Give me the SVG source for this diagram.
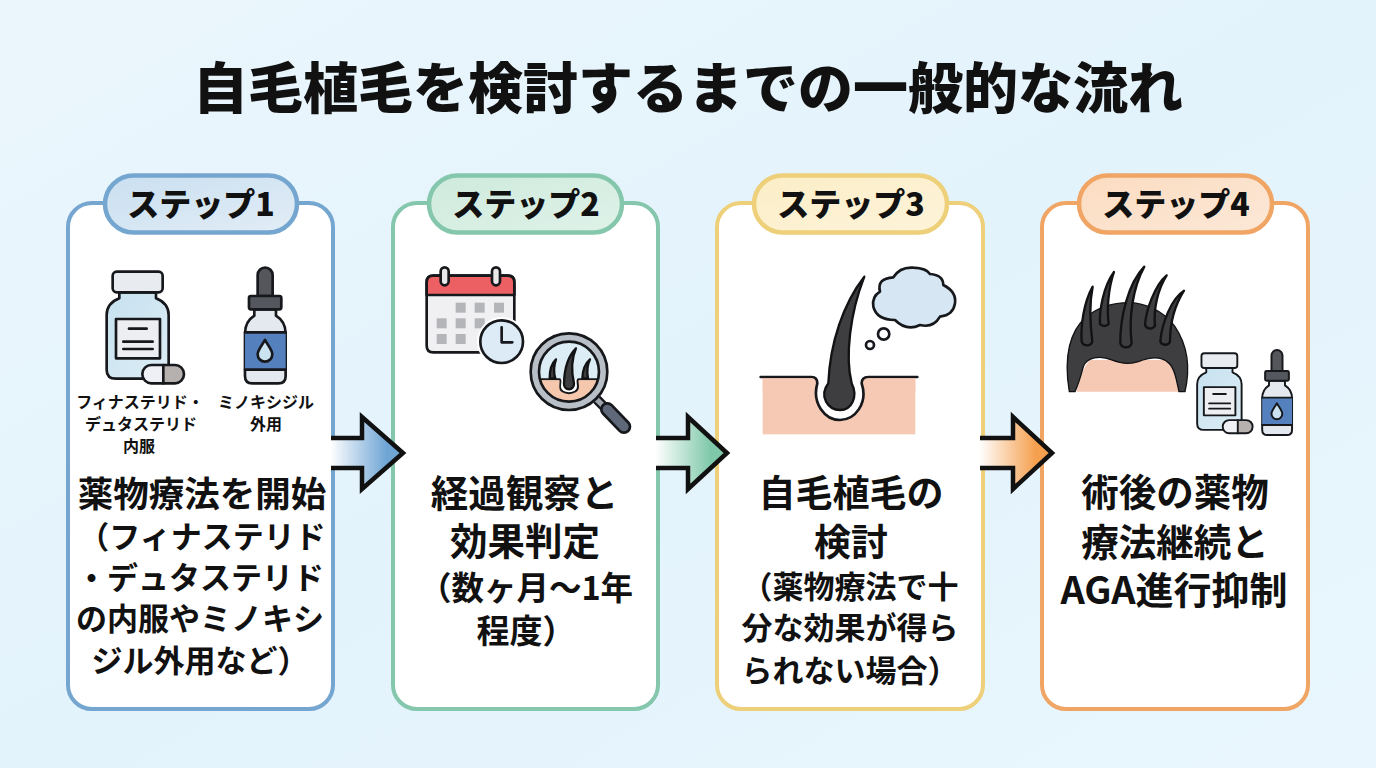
<svg xmlns="http://www.w3.org/2000/svg" width="1376" height="768" viewBox="0 0 1376 768">
<defs>
<style>
text{font-family:"Noto Sans CJK JP","Noto Sans",sans-serif;font-weight:700;fill:#111;text-anchor:middle}
.title{font-size:55px;font-weight:900}
.pilltxt{font-size:32px;font-weight:900}
.big{font-size:37px}
.mid{font-size:31px}
.small{font-size:16px}
.card{fill:#fff;stroke-width:4}
.pill{stroke-width:4.5}
.ink{stroke:#16181c;stroke-width:8;stroke-linejoin:round;stroke-linecap:round}
.line{fill:none;stroke:#16181c;stroke-width:8;stroke-linecap:round;stroke-linejoin:round}
.sq{fill:#b4b5b9}
.hair{fill:#3e3e41;stroke:#121214;stroke-width:7;stroke-linejoin:round}
.arrow{stroke-width:4.5;stroke:#111;fill:none;stroke-linejoin:miter}
</style>
<linearGradient id="bg" x1="0" y1="0" x2="1" y2="1"><stop offset="0" stop-color="#ebf6fc"/><stop offset=".5" stop-color="#e3f3fc"/><stop offset="1" stop-color="#e9f6fd"/></linearGradient>
<linearGradient id="p1" x1="0" y1="0" x2="1" y2="1"><stop offset="0" stop-color="#c9dff0"/><stop offset="1" stop-color="#e2edf6"/></linearGradient>
<linearGradient id="p2" x1="0" y1="0" x2="1" y2="1"><stop offset="0" stop-color="#cfeadd"/><stop offset="1" stop-color="#dff2e9"/></linearGradient>
<linearGradient id="p3" x1="0" y1="0" x2="1" y2="1"><stop offset="0" stop-color="#fbeec7"/><stop offset="1" stop-color="#fdf3d9"/></linearGradient>
<linearGradient id="p4" x1="0" y1="0" x2="1" y2="1"><stop offset="0" stop-color="#fbdcc0"/><stop offset="1" stop-color="#fce8d8"/></linearGradient>
<linearGradient id="a1"><stop offset="0" stop-color="#fff" stop-opacity="0"/><stop offset=".1" stop-color="#fff"/><stop offset=".8" stop-color="#6fa5d5"/></linearGradient>
<linearGradient id="a2"><stop offset="0" stop-color="#fff" stop-opacity="0"/><stop offset=".1" stop-color="#fff"/><stop offset=".8" stop-color="#7fc8aa"/></linearGradient>
<linearGradient id="a3"><stop offset="0" stop-color="#fff" stop-opacity="0"/><stop offset=".1" stop-color="#fff"/><stop offset=".8" stop-color="#f5a04f"/></linearGradient>
<linearGradient id="glass" x1="0" y1="0" x2="1" y2="1"><stop offset="0" stop-color="#c6e1ef"/><stop offset="1" stop-color="#dcedf5"/></linearGradient>
<clipPath id="lens"><circle cx="507" cy="605" r="90"/></clipPath>

<!-- pill bottle, drawn at 3x working units -->
<g id="bottle">
<path class="ink" fill="url(#glass)" d="M178,367V385Q140,400 140,435V600Q140,626 168,626H298Q326,626 326,600V435Q326,400 288,385V367Z"/>
<rect class="ink" fill="#e8ebf0" x="158" y="305" width="150" height="62" rx="12"/>
<rect class="ink" fill="#eceef2" x="168" y="447" width="132" height="118" stroke-width="6"/>
<path class="line" stroke-width="6" d="M207,476H260M190,515H278M190,537H278"/>
<path fill="#eef0f5" d="M310,585H274A27,27 0 0 0 274,640H310Z"/>
<path fill="#b6b1af" d="M310,585H345A27,27 0 0 1 345,640H310Z"/>
<rect class="line" x="247" y="585" width="125" height="55" rx="27"/>
<path class="line" d="M310,585V640"/>
</g>

<!-- dropper bottle, same working units -->
<g id="dropper">
<path class="ink" fill="#e4e9f0" d="M583,418V437Q555,455 555,490V618Q555,640 577,640H655Q677,640 677,618V490Q677,455 648,437V418Z"/>
<rect x="555" y="487" width="122" height="112" fill="#5480bd"/>
<path class="line" stroke-width="6" d="M555,487H677M555,599H677"/>
<path class="ink" fill="#54565c" d="M593,378V315A22,22 0 0 1 638,315V378Z"/>
<rect class="ink" fill="#54575d" x="567" y="378" width="97" height="40" rx="6"/>
<path class="line" style="fill:#cbe3f1" stroke-width="6" d="M615,510C607,525 593,540 593,553A22,22 0 0 0 637,553C637,540 623,525 615,510Z"/>
</g>
</defs>

<rect id="backdrop" width="1376" height="768" fill="url(#bg)"/>

<text class="title" x="688" y="108">自毛植毛を検討するまでの一般的な流れ</text>

<g id="step1">
<rect class="card" stroke="#75a6d0" x="68" y="203" width="265" height="506" rx="24"/>
<rect class="pill" fill="url(#p1)" stroke="#75a6d0" x="105" y="175.500" width="192" height="57" rx="28.500"/>
<text class="pilltxt" x="201" y="216">ステップ1</text>
<g transform="translate(60 170) scale(.3333)"><use href="#bottle"/><use href="#dropper"/></g>
<text class="small" x="140" y="408">フィナステリド・</text>
<text class="small" x="141" y="430">デュタステリド</text>
<text class="small" x="139" y="452">内服</text>
<text class="small" x="266" y="408">ミノキシジル</text>
<text class="small" x="266" y="430">外用</text>
<text class="big" style="font-size:35.500px" x="202" y="507">薬物療法を開始</text>
<text class="mid" x="202" y="548">（フィナステリド</text>
<text class="mid" x="200" y="589">・デュタステリド</text>
<text class="mid" x="200" y="630">の内服やミノキシ</text>
<text class="mid" x="200" y="672">ジル外用など）</text>
</g>

<g id="step2">
<rect class="card" stroke="#84c7ac" x="393" y="203" width="265" height="506" rx="24"/>
<rect class="pill" fill="url(#p2)" stroke="#84c7ac" x="429" y="175.500" width="193" height="57" rx="28.500"/>
<text class="pilltxt" x="526" y="216">ステップ2</text>
<g transform="translate(400 170) scale(.3333)">
<path class="ink" fill="#f0f0f2" d="M100,317H323Q343,317 343,337V527Q343,547 323,547H100Q80,547 80,527V337Q80,317 100,317Z"/>
<path class="ink" fill="#ec6064" d="M100,317H323Q343,317 343,337V375H80V337Q80,317 100,317Z"/>
<rect class="ink" fill="#e9e9ea" x="122" y="292" width="24" height="54" rx="12"/>
<rect class="ink" fill="#e9e9ea" x="276" y="292" width="24" height="54" rx="12"/>
<rect class="sq" x="167" y="398" width="30" height="30"/><rect class="sq" x="224" y="398" width="30" height="30"/><rect class="sq" x="282" y="398" width="30" height="30"/>
<rect class="sq" x="110" y="445" width="30" height="30"/><rect class="sq" x="167" y="445" width="30" height="30"/><rect class="sq" x="224" y="445" width="30" height="30"/>
<rect class="sq" x="110" y="492" width="30" height="30"/><rect class="sq" x="167" y="492" width="30" height="30"/>
<circle cx="305" cy="515" r="74" fill="#fff"/>
<circle class="ink" fill="#dcebf5" cx="305" cy="515" r="64"/>
<path class="line" d="M305,472V517H337"/>
<path d="M590,688L622,720" stroke="#16181c" stroke-width="30"/>
<path d="M590,688L622,720" stroke="#9ea5ad" stroke-width="16"/>
<path d="M622,718L672,770" stroke="#16181c" stroke-width="44" stroke-linecap="round"/>
<path d="M622,718L672,770" stroke="#5f6879" stroke-width="28" stroke-linecap="round"/>
<circle class="ink" fill="#b9bfc6" cx="507" cy="605" r="115"/>
<circle fill="#dcedf6" cx="507" cy="605" r="90"/>
<g clip-path="url(#lens)">
<rect x="410" y="628" width="200" height="90" fill="#f5c8ae"/>
<path d="M410,628H478C484,628 480,640 480,650C480,676 534,676 534,650C534,640 530,628 536,628H610" fill="#fff" stroke="#16181c" stroke-width="6"/>
<rect x="410" y="631" width="68" height="90" fill="#f5c8ae"/>
<rect x="537" y="631" width="73" height="90" fill="#f5c8ae"/>
<path class="hair" stroke-width="3" d="M528,535C503,560 493,600 492,640C490,664 524,664 522,640C513,600 515,565 528,535Z"/>
<path class="hair" stroke-width="3" d="M468,568C455,580 449,600 449,625H466C460,605 462,585 468,568Z"/>
<path class="hair" stroke-width="3" d="M570,568C556,580 548,600 547,625H564C560,605 562,585 570,568Z"/>
</g>
<circle class="line" cx="507" cy="605" r="90" stroke-width="7"/>
</g>
<text class="big" style="font-size:37.500px" x="524.500" y="507">経過観察と</text>
<text class="big" style="font-size:37.500px" x="525" y="555">効果判定</text>
<text class="mid" style="font-size:32.500px" x="526" y="600">（数ヶ月〜1年</text>
<text class="mid" style="font-size:33px" x="526" y="643">程度）</text>
</g>

<g id="step3">
<rect class="card" stroke="#edd079" x="717" y="203" width="266" height="506" rx="24"/>
<rect class="pill" fill="url(#p3)" stroke="#edd079" x="754" y="175.500" width="193" height="57" rx="28.500"/>
<text class="pilltxt" x="851" y="216">ステップ3</text>
<g transform="translate(730 170) scale(.3333)">
<rect x="98" y="625" width="458" height="168" fill="#f5c9b4"/>
<path class="line" style="fill:#fff" d="M92,621H245Q262,621 262,640C245,700 285,750 330,750C375,750 415,700 395,640Q395,621 415,621H562"/>
<rect x="98" y="625" width="150" height="40" fill="#f5c9b4"/>
<rect x="412" y="625" width="144" height="40" fill="#f5c9b4"/>
<path class="hair" d="M403,320C340,400 300,520 295,640C265,680 295,720 330,720C365,720 385,680 365,640C345,560 360,430 403,320Z"/>
<path class="ink" fill="#d6e6f2" d="M450,365Q440,325 490,322Q510,290 550,293Q590,295 600,312Q640,315 640,345Q680,365 675,400Q670,435 630,440Q610,475 570,465Q530,485 495,450Q440,450 430,410Q425,380 450,365Z"/>
<circle class="ink" fill="#fff" cx="461" cy="492" r="17"/>
<circle class="ink" fill="#fff" cx="420" cy="525" r="12"/>
</g>
<text class="big" x="851" y="507">自毛植毛の</text>
<text class="big" x="851" y="556">検討</text>
<text class="mid" x="850" y="598">（薬物療法で十</text>
<text class="mid" x="850" y="639">分な効果が得ら</text>
<text class="mid" x="850" y="682">られない場合）</text>
</g>

<g id="step4">
<rect class="card" stroke="#f0a565" x="1042" y="203" width="266" height="506" rx="24"/>
<rect class="pill" fill="url(#p4)" stroke="#f0a565" x="1079" y="175.500" width="193" height="57" rx="28.500"/>
<text class="pilltxt" x="1176" y="216">ステップ4</text>
<g transform="translate(1040 170) scale(.3333)">
<path fill="#f5c9b4" d="M110,665C120,620 130,590 150,570H380C405,590 412,630 418,665Z"/>
<path fill="#3e3e41" stroke="#121214" stroke-width="4" stroke-linejoin="round" d="M88,665C70,560 90,480 140,440C190,400 240,398 265,398C310,398 370,420 405,470C445,530 450,600 435,665H417C410,630 402,590 385,578C360,555 320,565 295,575C265,585 240,580 215,570C180,555 140,562 130,590C122,620 112,650 105,665Z"/>
<path class="hair" d="M158,350C130,400 122,470 125,515A17,17 0 0 0 157,515C150,460 148,400 158,350Z"/>
<path class="hair" d="M222,306C190,350 178,420 180,462A17,17 0 0 0 206,462C200,420 205,355 222,306Z"/>
<path class="hair" d="M313,290C265,340 240,440 241,520A18,18 0 0 0 275,520C265,440 280,350 313,290Z"/>
<path class="hair" d="M380,316C345,345 318,420 315,465A17,17 0 0 0 345,468C340,420 352,360 380,316Z"/>
<path class="hair" d="M432,362C395,385 365,460 361,515A16,16 0 0 0 390,515C390,460 405,405 432,362Z"/>
</g>
<g transform="translate(1163.700 280.300) scale(.239)"><use href="#bottle"/></g>
<g transform="translate(1126.200 278.300) scale(.245)"><use href="#dropper"/></g>
<text class="big" style="font-size:37.500px" x="1175" y="506">術後の薬物</text>
<text class="big" style="font-size:37.500px" x="1175" y="556">療法継続と</text>
<text class="big" style="font-size:38px" x="1174" y="604">AGA進行抑制</text>
</g>

<g id="connectors">
<path fill="url(#a1)" d="M322,440H362V417L403,453L362,489V466H322Z"/>
<path class="arrow" d="M331,438H362V417L403,453L362,489V468H331"/>
<path fill="url(#a2)" d="M647,440H688V417L727,453L688,489V466H647Z"/>
<path class="arrow" d="M656,438H688V417L727,453L688,489V468H656"/>
<path fill="url(#a3)" d="M971,440H1013V417L1052,453L1013,489V466H971Z"/>
<path class="arrow" d="M980,438H1013V417L1052,453L1013,489V468H980"/>
</g>
</svg>
